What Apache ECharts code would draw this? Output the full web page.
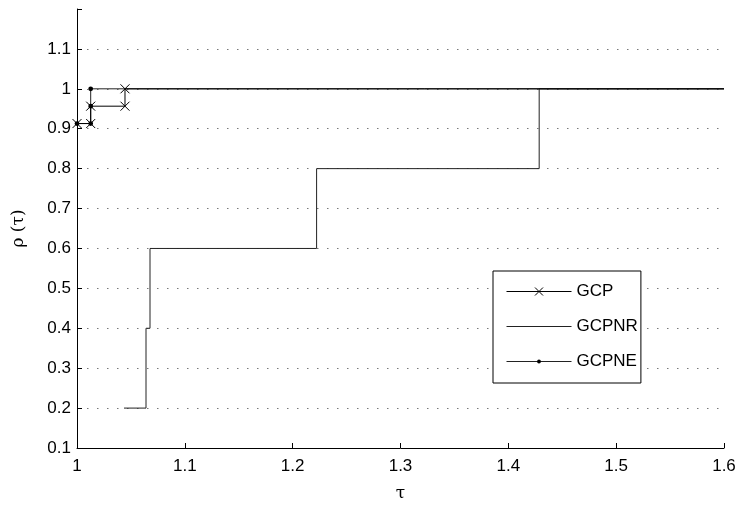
<!DOCTYPE html>
<html>
<head>
<meta charset="utf-8">
<script src="https://cdn.jsdelivr.net/npm/echarts@6/dist/echarts.min.js"></script>
<style>html,body{margin:0;padding:0;background:#fff;}#c{width:740px;height:507px;}</style>
</head>
<body>
<div id="c"></div>
<script>
// GCP (x markers)
var gcpX = [1.0, 1.0127, 1.0127, 1.0445, 1.0445, 1.6];
var gcpY = [0.913, 0.913, 0.9565, 0.9565, 1.0, 1.0];
// GCPNR (plain line)
var gcpnrX = [1.0436, 1.064, 1.064, 1.0677, 1.0677, 1.2222, 1.2222, 1.4286, 1.4286, 1.6];
var gcpnrY = [0.2, 0.2, 0.4, 0.4, 0.6, 0.6, 0.8, 0.8, 1.0, 1.0];
// GCPNE (dot markers)
var gcpneX = [1.0, 1.0127, 1.0127, 1.0127, 1.6];
var gcpneY = [0.913, 0.913, 0.9565, 1.0, 1.0];
var seriesNames = ['GCP', 'GCPNR', 'GCPNE'];

function pts(xs, ys, lastNoSymbol) {
  return xs.map(function (x, i) {
    var item = { value: [x, ys[i]] };
    if (lastNoSymbol && i === xs.length - 1) item.symbol = 'none';
    return item;
  });
}
var FONT = 'Liberation Sans';
var CROSS = 'path://M0,0L10,10M10,0L0,10';
// small dot centred in a 10x10 box (tiny corner segments set the box size)
var DOT = 'path://M0,0L0.01,0L0.01,0.01ZM10,10L9.99,10L9.99,9.99ZM5,2.6A2.4,2.4,0,1,1,4.99,2.6Z';
var chart = echarts.init(document.getElementById('c'));
chart.setOption({
  animation: false,
  backgroundColor: '#fff',
  textStyle: { fontFamily: FONT },
  grid: { left: 77, right: 16, top: 9, bottom: 53, containLabel: false },
  xAxis: {
    type: 'value', min: 1, max: 1.6, interval: 0.1,
    name: 'τ', nameLocation: 'middle', nameGap: 37,
    nameTextStyle: { fontSize: 17, color: '#000', fontFamily: 'DejaVu Serif' },
    axisLine: { show: true, onZero: false, lineStyle: { color: '#000', width: 1 } },
    axisTick: { show: true, inside: true, length: 5, lineStyle: { color: '#000' } },
    axisLabel: { fontSize: 17, color: '#000', margin: 10,
      formatter: function (v) { return String(+v.toFixed(1)); } },
    splitLine: { show: false }
  },
  yAxis: {
    type: 'value', min: 0.1, max: 1.2, interval: 0.1,
    name: 'ρ (τ)', nameLocation: 'middle', nameGap: 50, nameRotate: 90,
    nameTextStyle: { fontSize: 17, color: '#000', fontFamily: 'DejaVu Serif' },
    axisLine: { show: true, onZero: false, lineStyle: { color: '#000', width: 1 } },
    axisTick: { show: true, inside: true, length: 5, lineStyle: { color: '#000' } },
    axisLabel: { fontSize: 17, color: '#000', margin: 6,
      formatter: function (v) { return v > 1.15 ? '' : String(+v.toFixed(1)); } },
    splitLine: { show: true, showMinLine: false, showMaxLine: false,
      lineStyle: { color: '#777', width: 1, type: [1.5, 8.5] } }
  },
  legend: {
    orient: 'vertical', left: 493, top: 271,
    data: [
      { name: 'GCP', itemStyle: { borderWidth: 1, borderColor: '#000', color: 'rgba(0,0,0,0)' } },
      { name: 'GCPNR', itemStyle: { opacity: 0 } },
      { name: 'GCPNE' }
    ],
    lineStyle: { width: 1 },
    itemWidth: 65, itemHeight: 10, itemGap: 18,
    padding: [12, 3, 13, 13],
    borderColor: '#000', borderWidth: 1, backgroundColor: '#fff',
    textStyle: { fontSize: 17, color: '#000', fontFamily: FONT }
  },
  series: [
    {
      name: 'GCPNR', type: 'line', clip: false, symbol: 'none',
      data: pts(gcpnrX, gcpnrY, false),
      lineStyle: { color: '#222', width: 1 }, itemStyle: { color: '#222' }, z: 2
    },
    {
      name: 'GCPNE', type: 'line', clip: false, symbol: DOT, symbolSize: 10,
      data: pts(gcpneX, gcpneY, true),
      lineStyle: { color: '#222', width: 1 }, itemStyle: { color: '#000' }, z: 3
    },
    {
      name: 'GCP', type: 'line', clip: false,
      symbol: CROSS, symbolSize: 9,
      data: pts(gcpX, gcpY, true),
      lineStyle: { color: '#000', width: 1 },
      itemStyle: { color: 'rgba(0,0,0,0)', borderColor: '#000', borderWidth: 1 }, z: 4
    }
  ]
});
</script>
</body>
</html>
